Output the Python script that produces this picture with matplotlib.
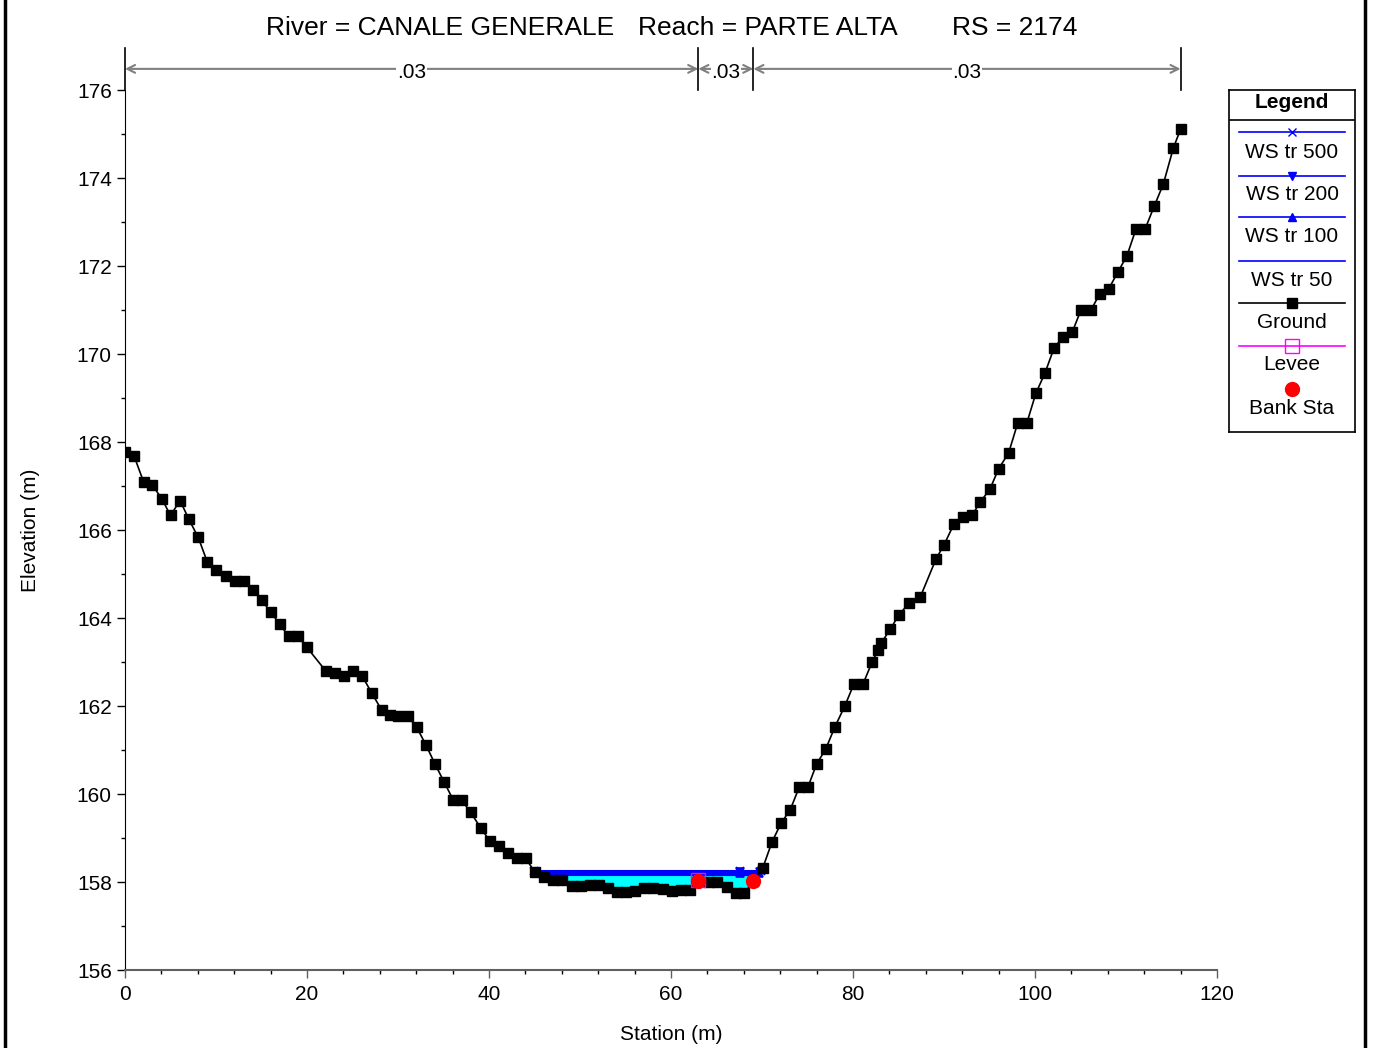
import matplotlib
matplotlib.use("Agg")
import matplotlib.pyplot as plt
import numpy as np
from matplotlib.lines import Line2D

plt.rcParams['font.family'] = ['Liberation Sans', 'DejaVu Sans']

# ground profile (station, elevation)
sta = [0, 1.0, 2.05, 3.0, 4.05, 5.0, 6.05, 7.03, 8.05, 9.05, 10.03, 11.05, 12.05, 13.04, 14.03,
       15.0, 16.0, 17.0, 18.0, 19.0, 20.0, 22.05, 23.04, 24.03, 25.05, 26.04,
       27.1, 28.2, 29.1, 30.0, 31.06, 32.05, 33.08, 34.07, 35.05, 36.08, 37.0, 38.0, 39.08,
       40.07, 41.06, 42.05, 43.04, 44.03,
       45.05, 46.04, 47.03, 48.0, 49.1, 50.1, 51.1, 52.1, 53.04, 54.03, 55.05, 56.04, 57.03,
       58.05, 59.08, 60.07, 61.06, 62.09,
       63.0, 64.2, 65.1, 66.1, 67.1, 68.05, 69.05,
       70.07, 71.1, 72.1, 73.1, 74.1, 75.05, 76.0, 77.0, 78.0, 79.1, 80.1, 81.1, 82.1, 82.75,
       83.1, 84.1, 85.05, 86.15, 87.4,
       89.12, 90.0, 91.1, 92.1, 93.1, 94.0, 95.05, 96.0, 97.1, 98.1, 99.1, 100.1, 101.1, 102.1,
       103.1, 104.1, 105.05, 106.15, 107.1, 108.1, 109.1, 110.1, 111.1, 112.1, 113.1, 114.1,
       115.2, 116.0]
elev = [167.77, 167.68, 167.09, 167.02, 166.71, 166.33, 166.67, 166.24, 165.83, 165.27, 165.10,
        164.95, 164.84, 164.84, 164.64, 164.41, 164.14, 163.86, 163.58, 163.58, 163.33,
        162.80, 162.74, 162.68, 162.80, 162.69,
        162.30, 161.91, 161.80, 161.77, 161.77, 161.52, 161.11, 160.68, 160.28, 159.86, 159.86,
        159.58, 159.23, 158.94, 158.82, 158.67, 158.54, 158.54,
        158.22, 158.11, 158.05, 158.05, 157.91, 157.91, 157.93, 157.93, 157.86, 157.78, 157.78,
        157.80, 157.87, 157.86, 157.83, 157.80, 157.82, 157.82,
        158.02, 158.0, 158.0, 157.88, 157.74, 157.74, 158.02,
        158.31, 158.91, 159.34, 159.64, 160.16, 160.16, 160.68, 161.02, 161.52, 162.0, 162.5,
        162.5, 163.0, 163.27, 163.43, 163.75, 164.07, 164.34, 164.48,
        165.34, 165.66, 166.14, 166.30, 166.34, 166.64, 166.93, 167.39, 167.75, 168.43, 168.43,
        169.11, 169.57, 170.14, 170.39, 170.5, 171.0, 171.0, 171.36, 171.48, 171.86, 172.23,
        172.84, 172.84, 173.36, 173.86, 174.68, 175.11]

ws_names = ['WS tr 500', 'WS tr 200', 'WS tr 100', 'WS tr 50']
ws_elev = [158.25, 158.22, 158.20, 158.17]
ws_marks = ['x', 'v', '^', None]
mid_marker_sta = 67.6

bank_sta = [63.0, 69.05]
bank_elev = [158.03, 158.03]
levee_sta = [63.0]
levee_elev = [158.05]

n_bounds = [0, 63.0, 69.05, 116.0]
n_vals = ['.03', '.03', '.03']

title_parts = ['River = CANALE GENERALE', 'Reach = PARTE ALTA', 'RS = 2174']

sta = np.array(sta)
elev = np.array(elev)


def crossings(level):
    # first/last station where the ground drops under / rises over the level
    below = np.where(elev < level)[0]
    i, j = below[0], below[-1]
    xl = np.interp(level, [elev[i], elev[i - 1]], [sta[i], sta[i - 1]])
    xr = np.interp(level, [elev[j], elev[j + 1]], [sta[j], sta[j + 1]])
    return xl, xr


W, H = 1374, 1048
fig = plt.figure(figsize=(W / 100, H / 100), dpi=100)
ax = fig.add_axes([125 / W, 1 - 970 / H, 1092 / W, 880 / H])

# water fill
wl, wr = crossings(ws_elev[-1])
xf = np.linspace(wl, wr, 400)
ax.fill_between(xf, np.interp(xf, sta, elev), ws_elev[-1],
                where=np.interp(xf, sta, elev) <= ws_elev[-1], color='cyan', lw=0, zorder=1)

for name, lvl, mk in zip(ws_names[::-1], ws_elev[::-1], ws_marks[::-1]):
    xl, xr = crossings(lvl)
    ax.plot([xl, xr], [lvl, lvl], color='blue', lw=1.5, zorder=2)
    if mk:
        ax.plot([xl, mid_marker_sta, xr], [lvl] * 3, ls='none', marker=mk, color='blue',
                ms=6, mew=1.2, zorder=3)

ax.plot(sta, elev, color='black', lw=1.2, marker='s', ms=6.5, zorder=4)
ax.plot(levee_sta, levee_elev, ls='none', marker='s', mfc='none', mec='magenta', ms=10,
        mew=1, zorder=5)
ax.plot(bank_sta, bank_elev, ls='none', marker='o', color='red', ms=10, zorder=6)

ax.set_xlim(0, 120)
ax.set_ylim(156, 176)
ax.set_xticks(np.arange(0, 121, 20))
ax.set_xticks(np.arange(0, 121, 4), minor=True)
ax.set_yticks(np.arange(156, 177, 2))
ax.set_yticks(np.arange(156, 177, 1), minor=True)
ax.tick_params(which='major', length=6, width=1, labelsize=15, direction='out')
ax.tick_params(which='minor', length=3, width=1, direction='out')
ax.tick_params(axis='x', colors='#606060', labelcolor='black', pad=5)
ax.spines['top'].set_visible(False)
ax.spines['right'].set_visible(False)
ax.spines['bottom'].set_color('#606060')
ax.spines['bottom'].set_linewidth(1.5)

# n-value bands above the plot
top = 176.95
for b in n_bounds:
    ax.plot([b, b], [176, top], color='black', lw=1.2, clip_on=False)
for a, b, t in zip(n_bounds[:-1], n_bounds[1:], n_vals):
    ax.annotate('', xy=(b, 176.48), xytext=(a, 176.48), annotation_clip=False,
                arrowprops=dict(arrowstyle='<->', color='gray', lw=1.5, shrinkA=0, shrinkB=0,
                                mutation_scale=14))
    ax.text((a + b) / 2, 176.44, t, ha='center', va='center_baseline', fontsize=15,
            clip_on=False, bbox=dict(facecolor='white', edgecolor='none', pad=0.5))

fig.text(671 / W, 1 - 1035 / H, 'Station (m)', ha='center', va='center', fontsize=15)
fig.text(30 / W, 1 - 530 / H, 'Elevation (m)', ha='center', va='center', fontsize=15,
         rotation=90)
for t, x in zip(title_parts, [266, 638, 952]):
    fig.text(x / W, 1 - 28 / H, t, ha='left', va='center', fontsize=19)

# legend box
lx0, ly0, lw_, lh = 1229, 90, 126, 342
lg = fig.add_axes([lx0 / W, 1 - (ly0 + lh) / H, lw_ / W, lh / H])
lg.set_xlim(0, lw_)
lg.set_ylim(lh, 0)
lg.set_xticks([])
lg.set_yticks([])
for s in lg.spines.values():
    s.set_linewidth(1.2)
lg.text(63, 13, 'Legend', ha='center', va='center', fontsize=15, fontweight='bold')
lg.plot([0, lw_], [30, 30], color='black', lw=1.2)
line_y = [42, 86, 127, 171, 213, 256]
text_y = [62, 105, 147, 190, 232, 275, 318]
styles = [dict(color='blue', marker='x', ms=6), dict(color='blue', marker='v', ms=6),
          dict(color='blue', marker='^', ms=6), dict(color='blue'),
          dict(color='black', marker='s', ms=6.5), dict(color='magenta', marker='s', ms=10, mfc='none')]
labels = ws_names + ['Ground', 'Levee']
for y, st in zip(line_y, styles):
    lg.plot([10, 116], [y, y], lw=1.2, **{k: v for k, v in st.items() if k not in ('marker', 'ms', 'mfc')})
    if 'marker' in st:
        lg.plot([63], [y], ls='none', **st)
lg.plot([63], [299], ls='none', marker='o', color='red', ms=10)
for y, t in zip(text_y, labels + ['Bank Sta']):
    lg.text(63, y, t, ha='center', va='center', fontsize=15)

# outer frame
for x in [5, 1365]:
    fig.add_artist(Line2D([x / W, x / W], [0, 1], transform=fig.transFigure, color='black', lw=2.5))

fig.savefig('out.png', dpi=100)
